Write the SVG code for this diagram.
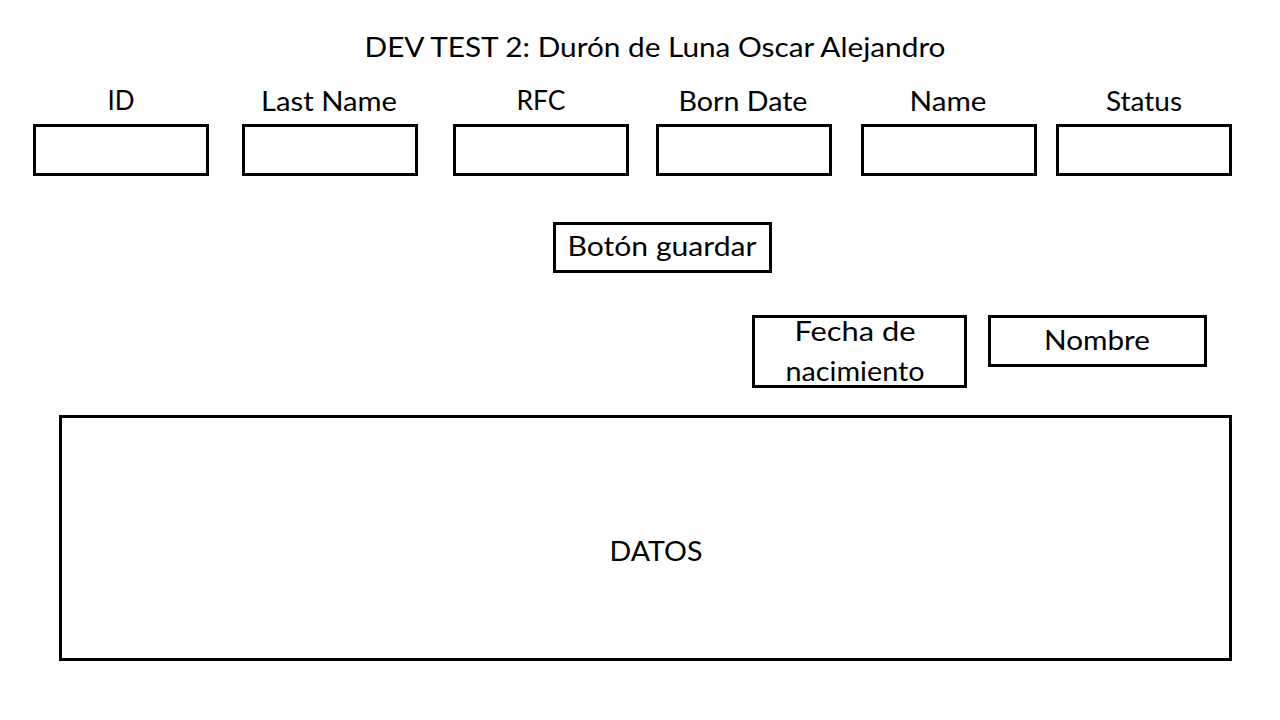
<svg xmlns="http://www.w3.org/2000/svg" width="1280" height="720" viewBox="0 0 1280 720">
<style>
.b{fill:#fff;stroke:#000;stroke-width:3}
text{font-family:"Lato","Noto Sans",sans-serif;font-size:27px;fill:#000;text-anchor:middle}
</style>
<rect width="1280" height="720" fill="#fff"/>
<text x="655" y="57" textLength="581" lengthAdjust="spacingAndGlyphs">DEV TEST 2: Durón de Luna Oscar Alejandro</text>
<g id="id"><text x="121" y="110" textLength="27" lengthAdjust="spacingAndGlyphs">ID</text><rect class="b" x="34.5" y="125.5" width="173" height="49"/></g>
<g id="lastname"><text x="329" y="111" textLength="136" lengthAdjust="spacingAndGlyphs">Last Name</text><rect class="b" x="243.5" y="125.5" width="173" height="49"/></g>
<g id="rfc"><text x="541" y="110" textLength="49" lengthAdjust="spacingAndGlyphs">RFC</text><rect class="b" x="454.5" y="125.5" width="173" height="49"/></g>
<g id="borndate"><text x="743" y="111" textLength="129" lengthAdjust="spacingAndGlyphs">Born Date</text><rect class="b" x="657.5" y="125.5" width="173" height="49"/></g>
<g id="name"><text x="948" y="111" textLength="77" lengthAdjust="spacingAndGlyphs">Name</text><rect class="b" x="862.5" y="125.5" width="173" height="49"/></g>
<g id="status"><text x="1144" y="111" textLength="76" lengthAdjust="spacingAndGlyphs">Status</text><rect class="b" x="1057.5" y="125.5" width="173" height="49"/></g>
<g id="guardar"><rect class="b" x="554.5" y="223.5" width="216" height="48"/><text x="662" y="256" textLength="189" lengthAdjust="spacingAndGlyphs">Botón guardar</text></g>
<g id="fecha"><rect class="b" x="753.5" y="316.5" width="212" height="70"/><text x="855" y="341" textLength="121" lengthAdjust="spacingAndGlyphs">Fecha de</text><text x="855" y="381" textLength="139" lengthAdjust="spacingAndGlyphs">nacimiento</text></g>
<g id="nombre"><rect class="b" x="989.5" y="316.5" width="216" height="49"/><text x="1097" y="350" textLength="106" lengthAdjust="spacingAndGlyphs">Nombre</text></g>
<g id="datos"><rect class="b" x="60.5" y="416.5" width="1170" height="243"/><text x="656" y="561" textLength="93" lengthAdjust="spacingAndGlyphs">DATOS</text></g>
<g id="connectors"/>
</svg>
